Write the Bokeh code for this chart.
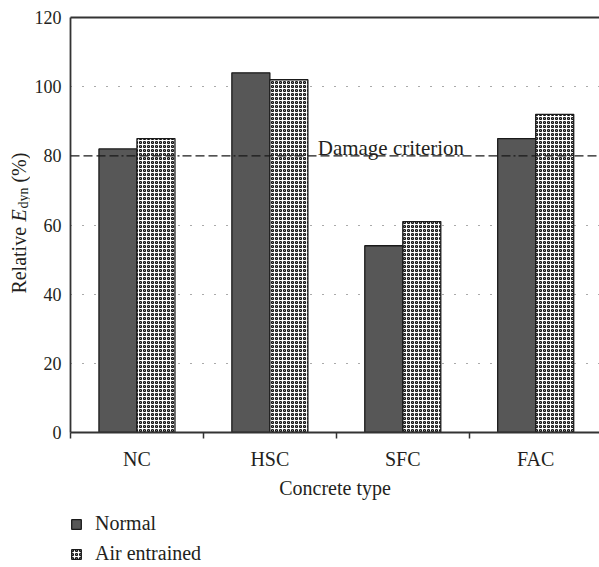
import math
from bokeh.plotting import figure
from bokeh.models import (Range1d, FixedTicker, LinearAxis, Span, Label, Legend, LegendItem, Grid)
from bokeh.layouts import row, column
from bokeh.embed import file_html
from bokeh.resources import INLINE

# ---- data ----
categories = ["NC", "HSC", "SFC", "FAC"]
normal = [82, 104, 54, 85]
air_entrained = [85, 102, 61, 92]
y_ticks = [0, 20, 40, 60, 80, 100, 120]
damage_criterion = 80
series_names = ["Normal", "Air entrained"]

FONT = "Liberation Serif"
TXT = "#231f20"
NORMAL_FILL = "#575757"
EDGE = "#1a1a1a"

n = len(categories)
centers = [i + 0.5 for i in range(n)]
bw = 0.286
x_normal = [c - bw / 2 for c in centers]
x_air = [c + bw / 2 for c in centers]

TITLE_W = 30
MAIN_H = 505
LEG_H = 567 - MAIN_H

air_style = dict(fill_color="white", line_color=EDGE, line_width=1.3,
                 hatch_pattern="ring", hatch_color="#111111", hatch_scale=4, hatch_weight=1.2)
norm_style = dict(fill_color=NORMAL_FILL, line_color=EDGE, line_width=1.3)

# ---------------- main chart ----------------
p = figure(width=599 - TITLE_W, height=MAIN_H, x_range=Range1d(0, 3.98), y_range=Range1d(0, 120),
           min_border_left=70 - TITLE_W, min_border_right=0, min_border_top=17,
           min_border_bottom=MAIN_H - 432,
           output_backend="svg", toolbar_location=None, x_axis_type=None, y_axis_type=None)
p.outline_line_color = None

xaxis = LinearAxis(ticker=FixedTicker(ticks=centers, minor_ticks=[float(i) for i in range(n)]))
xaxis.major_label_overrides = {c: cat for c, cat in zip(centers, categories)}
xaxis.major_tick_out = 0
xaxis.major_tick_in = 0
xaxis.minor_tick_out = 6
xaxis.minor_tick_in = 0
xaxis.minor_tick_line_color = "#333333"
xaxis.minor_tick_line_width = 1.5
xaxis.axis_line_color = "#333333"
xaxis.axis_line_width = 1.8
xaxis.major_label_text_font = FONT
xaxis.major_label_text_font_size = "20px"
xaxis.major_label_text_color = TXT
xaxis.major_label_standoff = 9
xaxis.axis_label = "Concrete type"
xaxis.axis_label_text_font = FONT
xaxis.axis_label_text_font_size = "20px"
xaxis.axis_label_text_font_style = "normal"
xaxis.axis_label_text_color = TXT
xaxis.axis_label_standoff = 4
p.add_layout(xaxis, "below")

yaxis = LinearAxis(ticker=FixedTicker(ticks=y_ticks, minor_ticks=[]))
yaxis.major_tick_out = 0
yaxis.major_tick_in = 0
yaxis.axis_line_color = "#333333"
yaxis.axis_line_width = 1.8
yaxis.major_label_text_font = FONT
yaxis.major_label_text_font_size = "18px"
yaxis.major_label_text_color = TXT
yaxis.major_label_standoff = 9
p.add_layout(yaxis, "left")

top_axis = LinearAxis(ticker=FixedTicker(ticks=[]))
top_axis.axis_line_color = "#333333"
top_axis.axis_line_width = 1.8
top_axis.major_label_text_font_size = "0px"
top_axis.major_tick_out = 0
top_axis.minor_tick_out = 0
p.add_layout(top_axis, "above")

grid = Grid(dimension=1, ticker=FixedTicker(ticks=[t for t in y_ticks if t not in (0, 120, damage_criterion)]))
grid.grid_line_color = "#555555"
grid.grid_line_dash = "1 11"
grid.grid_line_width = 1.2
p.add_layout(grid)

p.vbar(x=x_normal, top=normal, width=bw, bottom=0, **norm_style)
p.vbar(x=x_air, top=air_entrained, width=bw, bottom=0, **air_style)

span = Span(location=damage_criterion, dimension="width", line_color=EDGE,
            line_width=1.3, line_dash="9 4 9 4 9 4 9 3 2 3")
p.add_layout(span)
p.add_layout(Label(x=1.86, y=damage_criterion, y_offset=8, text="Damage criterion",
                   text_font=FONT, text_font_size="21px", text_color=TXT,
                   text_baseline="alphabetic", text_align="left"))

# ---------------- y axis title (separate strip) ----------------
t = figure(width=TITLE_W, height=MAIN_H, x_range=Range1d(0, TITLE_W), y_range=Range1d(0, MAIN_H),
           min_border=0, output_backend="svg", toolbar_location=None,
           x_axis_type=None, y_axis_type=None)
t.outline_line_color = None
t.grid.visible = False
ty = MAIN_H - 296 - 40  # empirical correction for strip placement
common = dict(x=18, y=ty, angle=math.pi / 2, text_font=FONT, text_color=TXT,
              text_baseline="middle", text_align="left")
t.add_layout(Label(text="Relative", text_font_size="20px", y_offset=0, **common))
t.add_layout(Label(text="E", text_font_size="20px", text_font_style="italic", y_offset=72, **common))
t.add_layout(Label(text="dyn", text_font_size="14px", y_offset=85, x_offset=5, **common))
t.add_layout(Label(text="(%)", text_font_size="20px", y_offset=111, **common))

# ---------------- legend strip ----------------
lf = figure(width=599, height=LEG_H, x_range=Range1d(0, 1), y_range=Range1d(0, 1),
            min_border=0, output_backend="svg", toolbar_location=None,
            x_axis_type=None, y_axis_type=None)
lf.outline_line_color = None
lf.grid.visible = False
# one undrawn (NaN) point each so the legend swatches get their styles
r_norm = lf.vbar(x=[float("nan")], top=[float("nan")], width=0.1, **norm_style)
r_air = lf.vbar(x=[float("nan")], top=[float("nan")], width=0.1, **air_style)
legend = Legend(items=[LegendItem(label=series_names[0], renderers=[r_norm]),
                       LegendItem(label=series_names[1], renderers=[r_air])],
                location=(70, 2))
legend.glyph_width = 12
legend.glyph_height = 12
legend.label_standoff = 13
legend.label_text_font = FONT
legend.label_text_font_size = "20px"
legend.label_text_color = TXT
legend.label_height = 20
legend.spacing = 7
legend.padding = 0
legend.margin = 0
legend.border_line_alpha = 0
legend.background_fill_alpha = 0
lf.add_layout(legend)

layout = column(row(t, p, spacing=0), lf, spacing=0)
open("out.html", "w").write(file_html(layout, INLINE))
